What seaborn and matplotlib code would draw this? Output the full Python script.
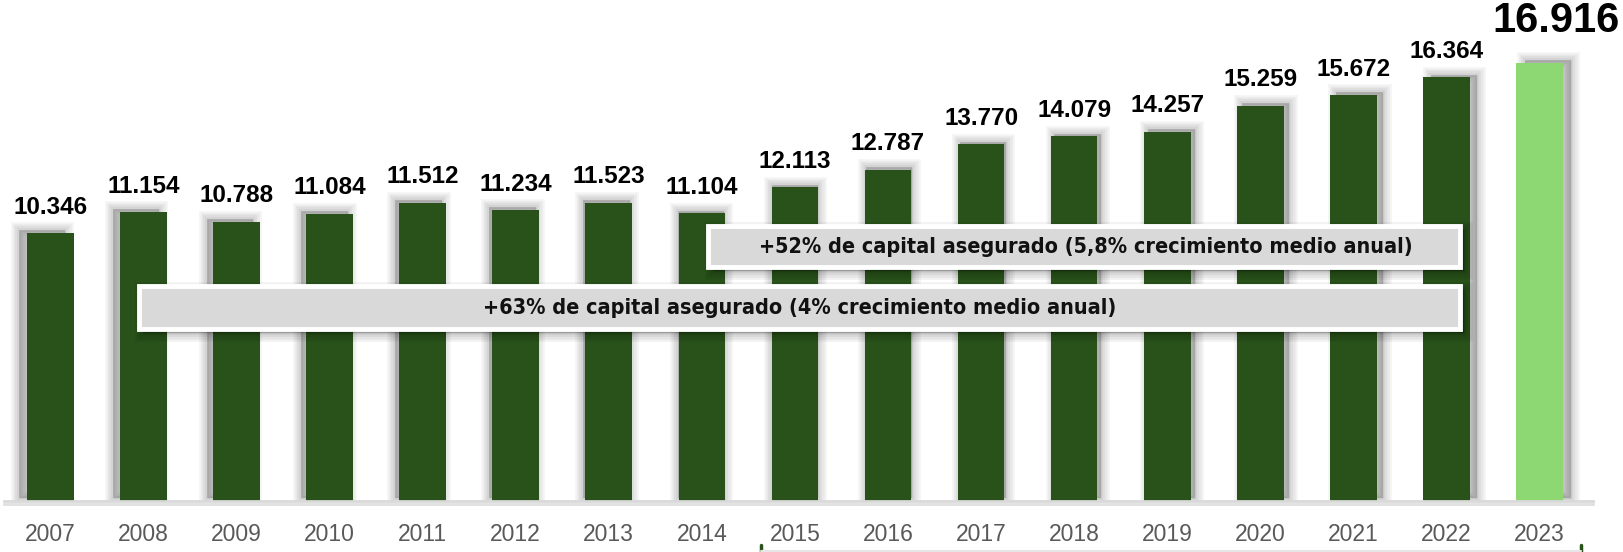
import matplotlib
matplotlib.use("Agg")
import matplotlib.pyplot as plt
import matplotlib.patheffects as pe
from matplotlib.patches import FancyBboxPatch
import matplotlib.transforms as mtrans
import seaborn as sns
import pandas as pd

# data
years = [str(y) for y in range(2007, 2024)]
values = [10.346, 11.154, 10.788, 11.084, 11.512, 11.234, 11.523, 11.104,
          12.113, 12.787, 13.770, 14.079, 14.257, 15.259, 15.672, 16.364, 16.916]
note_long = "+63% de capital asegurado (4% crecimiento medio anual)"
note_short = "+52% de capital asegurado (5,8% crecimiento medio anual)"

dark_green = "#28521a"
light_green = "#8ed873"

sns.set_style("white")
plt.rcParams["font.family"] = ["Liberation Sans", "DejaVu Sans"]

df = pd.DataFrame({"year": years, "value": values})
palette = {y: dark_green for y in years}
palette[years[-1]] = light_green

fig = plt.figure(figsize=(16.23, 5.52), dpi=100)
ax = fig.add_axes([0.0023, 0.0924, 0.979, 0.9076])

sns.barplot(data=df, x="year", y="value", hue="year", palette=palette,
            width=0.5, legend=False, saturation=1, ax=ax, zorder=2)


def soft_shadow(dx, dy, alpha=0.045):
    # stacked strokes of shrinking width fake a blurred shadow
    return [pe.SimplePatchShadow(offset=(dx, dy), shadow_rgbFace="#000000",
                                 alpha=alpha, foreground="#000000", linewidth=w)
            for w in (12, 9, 6, 3, 0.1)]


# shadows pushed outwards from the middle of the chart
mid = (len(years) - 1) / 2
for i, p in enumerate(ax.patches):
    dx = (i - mid) * 0.75
    p.set_path_effects(soft_shadow(dx, 2) + [pe.Normal()])
    p.set_edgecolor("none")

# value labels
for i, v in enumerate(values):
    last = i == len(values) - 1
    ax.annotate(f"{v:.3f}", (i, v), xytext=(11.5, 15.5) if last else (0, 10.5),
                textcoords="offset points", ha="center", va="bottom",
                fontsize=30 if last else 17.5, fontweight="bold", color="black")

ax.set_xlim(-0.5, 16.57)
ax.set_ylim(0, 19.35)
ax.set_xlabel("")
ax.set_ylabel("")
ax.set_yticks([])
ax.tick_params(axis="x", length=0, pad=16, labelsize=16.5, labelcolor="#595959")
for s in ["top", "right", "left"]:
    ax.spines[s].set_visible(False)
ax.spines["bottom"].set_color("#d9d9d9")
ax.spines["bottom"].set_linewidth(2)
ax.spines["bottom"].set_path_effects(
    [pe.SimpleLineShadow(offset=(0, -2), shadow_color="#000000", alpha=0.12), pe.Normal()])

# annotation boxes
for (x0, x1, y0, y1, txt, tx) in [(7.07, 15.14, 9.03, 10.62, note_short, 11.12),
                                   (0.95, 15.14, 6.64, 8.30, note_long, 8.05)]:
    box = FancyBboxPatch((x0, y0), x1 - x0, y1 - y0, boxstyle="square,pad=0",
                         facecolor="#d9d9d9", edgecolor="white", linewidth=3.5,
                         zorder=4)
    box.set_path_effects(soft_shadow(3, -3, 0.05) + [pe.Normal()])
    ax.add_patch(box)
    ax.text(tx, (y0 + y1) / 2, txt, ha="center", va="center", fontsize=15.5,
            color="#111111", zorder=5, fontstretch="condensed", fontweight="bold",
            family=["DejaVu Sans", "Liberation Sans"])

# bracket under 2015-2023 (cut by the frame)
trans = mtrans.blended_transform_factory(ax.transData, ax.transAxes)
for xb in [7.64, 16.45]:
    ax.plot([xb, xb], [-0.088, -0.12], color=dark_green, lw=2.5,
            transform=trans, clip_on=False)
ax.plot([7.64, 16.45], [-0.1, -0.1], color="#e6e6e6", lw=1.5,
        transform=trans, clip_on=False)

fig.savefig("out.png", dpi=100)
